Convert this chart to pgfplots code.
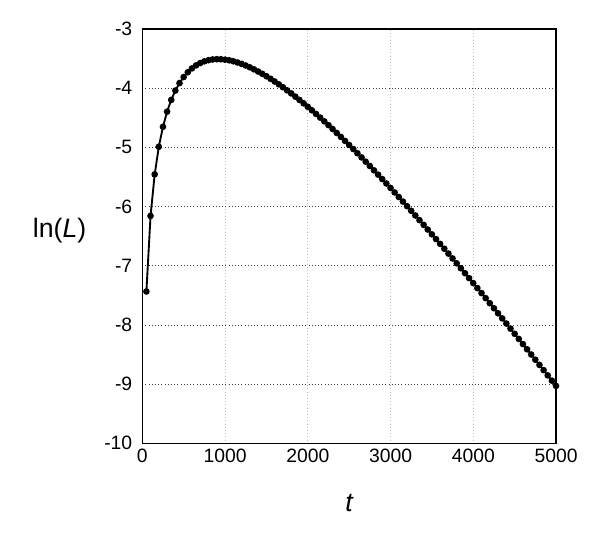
\documentclass[border=0pt]{standalone}
\usepackage{pgfplots}
\pgfplotsset{compat=1.18}
\usepackage{fontspec}
\setmainfont{Liberation Sans}
\begin{document}
\begin{tikzpicture}
\begin{axis}[
  scale only axis,
  width=310.3pt, height=310.7pt,
  xmin=0, xmax=5000, ymin=-10, ymax=-3,
  xtick={0,1000,2000,3000,4000,5000},
  ytick={-10,-9,-8,-7,-6,-5,-4,-3},
  /pgf/number format/assume math mode=true,
  /pgf/number format/1000 sep={},
  tick style={draw=none},
  grid=major,
  x grid style={gray!55, dotted, line width=0.6pt},
  y grid style={black!75, dotted, line width=0.6pt},
  axis line style={black, line width=1pt},
  ticklabel style={font=\fontsize{14.5}{16}\selectfont},
  xticklabel style={yshift=-1pt},
  yticklabel style={xshift=-4pt},
  xlabel={\itshape t},
  ylabel={ln(\textit{L})},
  every axis x label/.style={at={(rel axis cs:0.5,0)}, anchor=base, yshift=-51pt, font=\fontsize{20}{24}\selectfont},
  every axis y label/.style={at={(rel axis cs:0,0.5)}, anchor=center, xshift=-62pt, yshift=4.5pt, font=\fontsize{20}{24}\selectfont},
]
\addplot[black, line width=1.4pt, mark=*, mark size=1.75pt, mark options={solid}] coordinates {
(50,-7.435) (100,-6.158) (150,-5.456) (200,-4.990) (250,-4.653) (300,-4.397) (350,-4.198) (400,-4.040) (450,-3.914) (500,-3.812)
(550,-3.731) (600,-3.666) (650,-3.615) (700,-3.576) (750,-3.547) (800,-3.527) (850,-3.515) (900,-3.510) (950,-3.511) (1000,-3.518)
(1050,-3.529) (1100,-3.545) (1150,-3.566) (1200,-3.589) (1250,-3.617) (1300,-3.648) (1350,-3.682) (1400,-3.718) (1450,-3.757) (1500,-3.798)
(1550,-3.842) (1600,-3.887) (1650,-3.935) (1700,-3.984) (1750,-4.036) (1800,-4.088) (1850,-4.143) (1900,-4.199) (1950,-4.256) (2000,-4.314)
(2050,-4.374) (2100,-4.435) (2150,-4.497) (2200,-4.560) (2250,-4.624) (2300,-4.690) (2350,-4.756) (2400,-4.823) (2450,-4.891) (2500,-4.960)
(2550,-5.029) (2600,-5.099) (2650,-5.170) (2700,-5.242) (2750,-5.315) (2800,-5.388) (2850,-5.461) (2900,-5.536) (2950,-5.611) (3000,-5.686)
(3050,-5.762) (3100,-5.839) (3150,-5.916) (3200,-5.994) (3250,-6.072) (3300,-6.151) (3350,-6.230) (3400,-6.309) (3450,-6.389) (3500,-6.470)
(3550,-6.550) (3600,-6.631) (3650,-6.713) (3700,-6.795) (3750,-6.877) (3800,-6.960) (3850,-7.043) (3900,-7.126) (3950,-7.210) (4000,-7.294)
(4050,-7.378) (4100,-7.463) (4150,-7.548) (4200,-7.633) (4250,-7.718) (4300,-7.804) (4350,-7.890) (4400,-7.977) (4450,-8.063) (4500,-8.150)
(4550,-8.237) (4600,-8.324) (4650,-8.412) (4700,-8.500) (4750,-8.588) (4800,-8.676) (4850,-8.764) (4900,-8.853) (4950,-8.942) (5000,-9.031)
};
\coordinate (sw) at (rel axis cs:0,0);
\coordinate (ne) at (rel axis cs:1,1);
\end{axis}
\path (sw) ++(-106.7pt,-69.5pt) coordinate (bbsw);
\path (ne) ++(33pt,21.75pt) coordinate (bbne);
\path[use as bounding box] (bbsw) rectangle (bbne);
\end{tikzpicture}
\end{document}
